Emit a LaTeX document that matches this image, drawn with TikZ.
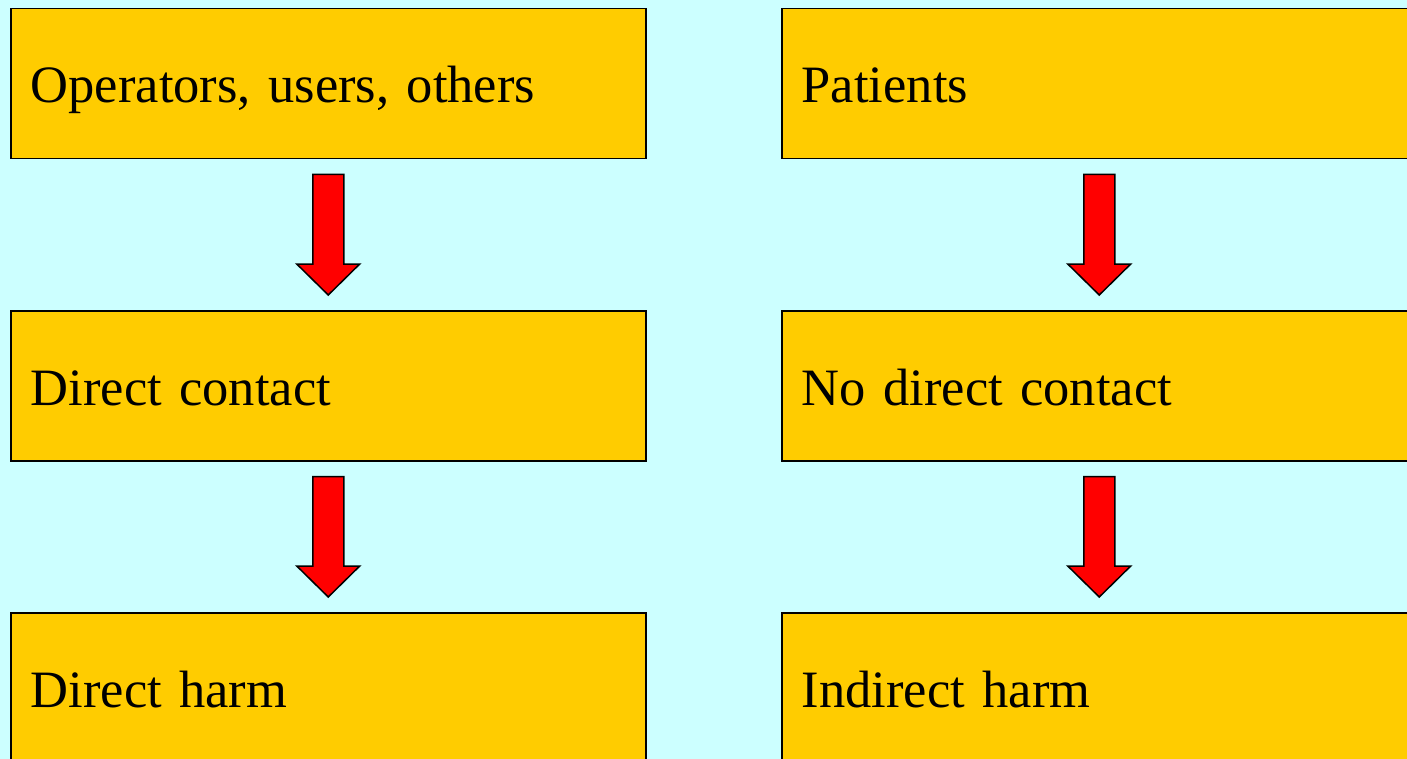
\documentclass[tikz,border=0pt]{standalone}
\usepackage{fontspec}
\setmainfont{Liberation Serif}
\usetikzlibrary{calc}

\definecolor{bgcyan}{HTML}{CCFFFF}
\definecolor{boxgold}{HTML}{FFCC00}
\definecolor{arrowred}{HTML}{FF0000}

\tikzset{
  box/.style={draw=black, line width=1.5pt, fill=boxgold, anchor=north west,
    minimum width=635pt, minimum height=150pt, inner xsep=20pt, inner ysep=0pt,
    text width=595pt, align=left, text height=38.5pt, text depth=0pt,
    font=\fontsize{52.5}{60}\selectfont},
  blockarrow/.style={draw=black, line width=1.5pt, fill=arrowred, line join=miter}
}

% red block arrow from the bottom of one box to the top of the next
\newcommand{\downblock}[2]{%
  \draw[blockarrow] let \p1=(#1.south), \p2=(#2.north) in
    (\x1-15.5pt,\y1-15pt) -- (\x1+15.5pt,\y1-15pt) -- (\x1+15.5pt,\y2+46pt)
    -- (\x1+31.5pt,\y2+46pt) -- (\x1,\y2+15pt) -- (\x1-31.5pt,\y2+46pt)
    -- (\x1-15.5pt,\y2+46pt) -- cycle;}

\begin{document}
\begin{tikzpicture}[x=1pt,y=-1pt]
  \useasboundingbox (0,0) rectangle (1407,759);
  \clip (0,0) rectangle (1407,759);
  \fill[bgcyan] (0,0) rectangle (1407,759);

  % left column
  \node[box] (ops) at (10,8) {Operators, users, others};
  \node[box] (contact) at (10,310) {Direct contact};
  \node[box] (harm) at (10,612) {Direct harm};

  % right column
  \node[box] (pat) at (781,8) {Patients};
  \node[box] (nocontact) at (781,310) {No direct contact};
  \node[box] (indharm) at (781,612) {Indirect harm};

  \downblock{ops}{contact}
  \downblock{contact}{harm}
  \downblock{pat}{nocontact}
  \downblock{nocontact}{indharm}
\end{tikzpicture}
\end{document}
